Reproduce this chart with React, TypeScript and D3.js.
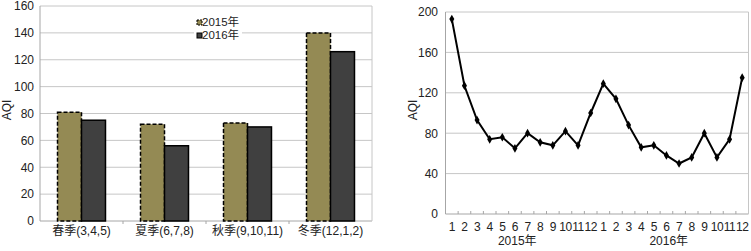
import React from "react";
import * as d3 from "d3";

const seasons = ["春季(3,4,5)", "夏季(6,7,8)", "秋季(9,10,11)", "冬季(12,1,2)"];
const years = ["2015年", "2016年"];
const aqi2015 = [81, 72, 73, 140];
const aqi2016 = [75, 56, 70, 126];
const barTicks = [0, 20, 40, 60, 80, 100, 120, 140, 160];

const monthLabels = ["1","2","3","4","5","6","7","8","9","10","11","12","1","2","3","4","5","6","7","8","9","10","11","12"];
const monthlyAqi = [193, 127, 93, 74, 76, 65, 80, 71, 68, 82, 68, 100, 129, 114, 88, 66, 68, 58, 50, 56, 80, 56, 74, 135];
const lineTicks = [0, 40, 80, 120, 160, 200];

const FONT = "'Liberation Sans', Arial, 'Noto Sans CJK SC', sans-serif";
const GRID = "#c6c6c6";
const AXIS = "#a6a6a6";

export default function App() {
  // left chart
  const L = { x0: 40, x1: 372, y0: 6, y1: 221 };
  const xs = d3.scaleBand<string>().domain(seasons).range([L.x0, L.x1]);
  const xi = d3.scaleBand<string>().domain(years).range([0, xs.bandwidth()]).paddingInner(0).paddingOuter(0.73);
  const ys = d3.scaleLinear().domain([0, 160]).range([L.y1, L.y0]);

  // right chart
  const R = { x0: 445.5, x1: 748.5, y0: 12, y1: 214 };
  const idx = monthlyAqi.map((_, i) => i);
  const xr = d3.scaleBand<number>().domain(idx).range([R.x0, R.x1]);
  const yr = d3.scaleLinear().domain([0, 200]).range([R.y1, R.y0]);
  const cx = (i: number) => (xr(i) as number) + xr.bandwidth() / 2;
  const line = d3.line<number>().x((_, i) => cx(i)).y((d) => yr(d));
  const diamond = d3.symbol().type(d3.symbolDiamond).size(22)();

  const seriesData = [
    { name: years[0], values: aqi2015, fill: "#948A54", dash: "4,2" },
    { name: years[1], values: aqi2016, fill: "#404040", dash: undefined as string | undefined },
  ];

  return (
    <svg width={751} height={251} style={{ position: "absolute", left: 0, top: 0, background: "#fff" }} fontFamily={FONT}>
      <rect x={0} y={0} width={751} height={251} fill="#fff" />
      {/* LEFT CHART */}
      {barTicks.map((t) => (
        <line key={"lg" + t} x1={L.x0} x2={L.x1} y1={ys(t)} y2={ys(t)} stroke={t === 0 ? AXIS : GRID} strokeWidth={1} />
      ))}
      <line x1={L.x0} x2={L.x0} y1={L.y0} y2={L.y1} stroke={AXIS} />
      <line x1={L.x1} x2={L.x1} y1={L.y0} y2={L.y1} stroke={GRID} />
      {seasons.map((s, i) => i > 0 ? (
        <line key={"lt" + i} x1={xs(s)} x2={xs(s)} y1={L.y1} y2={L.y1 + 3} stroke={AXIS} />
      ) : null)}
      {barTicks.map((t) => (
        <text key={"ly" + t} x={34} y={ys(t)} dy="0.36em" textAnchor="end" fontSize={12} fill="#222">{t}</text>
      ))}
      <text transform={`translate(11,110) rotate(-90)`} textAnchor="middle" fontSize={12} fill="#222">AQI</text>
      {seriesData.map((ser) =>
        seasons.map((s, i) => {
          const x = (xs(s) as number) + (xi(ser.name) as number);
          const y = ys(ser.values[i]);
          return (
            <rect key={ser.name + s} x={x} y={y} width={xi.bandwidth()} height={L.y1 - y}
              fill={ser.fill} stroke="#000" strokeWidth={1.5} strokeDasharray={ser.dash} />
          );
        })
      )}
      {seasons.map((s) => (
        <text key={"lx" + s} x={(xs(s) as number) + xs.bandwidth() / 2} y={235} textAnchor="middle" fontSize={12} fill="#222">{s}</text>
      ))}
      {/* legend */}
      <rect x={194} y={15} width={48} height={28} fill="#fff" />
      {seriesData.map((ser, k) => (
        <g key={"leg" + ser.name} transform={`translate(197,${20 + k * 13})`}>
          <rect x={0} y={0} width={5} height={5} fill={ser.fill} stroke="#000" strokeWidth={1} strokeDasharray={ser.dash ? "2,1" : undefined} />
          <text x={5} y={6} fontSize={11.5} fill="#222">{ser.name}</text>
        </g>
      ))}

      {/* RIGHT CHART */}
      {lineTicks.map((t) => (
        <line key={"rg" + t} x1={R.x0} x2={R.x1} y1={yr(t)} y2={yr(t)} stroke={t === 0 ? AXIS : GRID} />
      ))}
      <line x1={R.x0} x2={R.x0} y1={R.y0} y2={R.y1} stroke={AXIS} />
      <line x1={R.x1} x2={R.x1} y1={R.y0} y2={R.y1} stroke={GRID} />
      {idx.map((i) => (
        <line key={"rt" + i} x1={xr(i)} x2={xr(i)} y1={R.y1} y2={R.y1 - 3} stroke={AXIS} />
      ))}
      {lineTicks.map((t) => (
        <text key={"ry" + t} x={438} y={yr(t)} dy="0.36em" textAnchor="end" fontSize={12} fill="#222">{t}</text>
      ))}
      <text transform={`translate(417,110) rotate(-90)`} textAnchor="middle" fontSize={12} fill="#222">AQI</text>
      <path d={line(monthlyAqi) || ""} fill="none" stroke="#000" strokeWidth={2} />
      {monthlyAqi.map((v, i) => (
        <path key={"pt" + i} d={diamond || ""} transform={`translate(${cx(i)},${yr(v)})`} fill="#000" />
      ))}
      {monthLabels.map((m, i) => (
        <text key={"rx" + i} x={cx(i)} y={231} textAnchor="middle" fontSize={12} fill="#222" letterSpacing={-0.5}>{m}</text>
      ))}
      {years.map((yname, k) => (
        <text key={"yr" + k} x={(xr(k * 12) as number) + xr.bandwidth() * 6 - 4} y={245} textAnchor="middle" fontSize={12} fill="#222">{yname}</text>
      ))}
    </svg>
  );
}
